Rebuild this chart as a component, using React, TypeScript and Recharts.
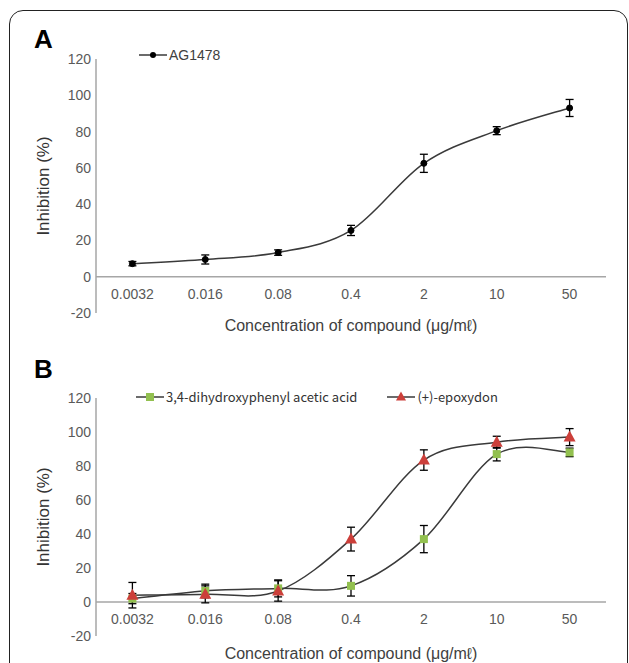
import React from "react";
import {
  LineChart,
  Line,
  XAxis,
  YAxis,
  ErrorBar,
  ReferenceLine,
  Legend,
} from "recharts";

const concentrations = ["0.0032", "0.016", "0.08", "0.4", "2", "10", "50"];
const yTicks = [-20, 0, 20, 40, 60, 80, 100, 120];

// panel A
const ag1478 = [7.2, 9.5, 13.3, 25.5, 62.5, 80.5, 93];
const ag1478Err = [1.2, 2.5, 1.5, 2.8, 5, 2.2, 4.7];

// panel B
const dhpaa = [2, 6.5, 8, 9.5, 37, 87, 88];
const dhpaaErr = [3, 4, 5, 6, 8, 4, 2.5];
const epoxydon = [4, 4.5, 6.5, 37, 83.5, 94, 97];
const epoxydonErr = [7.5, 5, 6, 7, 6, 3.5, 5];

const dataA = concentrations.map((c, i) => ({ c, v: ag1478[i], e: ag1478Err[i] }));
const dataB = concentrations.map((c, i) => ({
  c,
  dh: dhpaa[i],
  dhErr: dhpaaErr[i],
  ep: epoxydon[i],
  epErr: epoxydonErr[i],
}));

const GREEN = "#92c04f";
const RED = "#cc3f3a";
const LINE = "#3a3a3a";
const AXIS = "#a6a6a6";
const TICK = "#595959";
const FONT = '"Liberation Sans", Arial, sans-serif';
const xTitle = "Concentration of compound (\u03bcg/m\u2113)";

// excel-like smoothed line (catmull-rom)
const smooth = (context: any) => {
  let pts: number[][] = [];
  return {
    areaStart() {},
    areaEnd() {},
    lineStart() {
      pts = [];
    },
    point(x: number, y: number) {
      pts.push([+x, +y]);
    },
    lineEnd() {
      if (!pts.length) return;
      context.moveTo(pts[0][0], pts[0][1]);
      for (let i = 0; i < pts.length - 1; i++) {
        const p0 = pts[i - 1] || pts[i];
        const p1 = pts[i];
        const p2 = pts[i + 1];
        const p3 = pts[i + 2] || p2;
        context.bezierCurveTo(
          p1[0] + (p2[0] - p0[0]) / 6,
          p1[1] + (p2[1] - p0[1]) / 6,
          p2[0] - (p3[0] - p1[0]) / 6,
          p2[1] - (p3[1] - p1[1]) / 6,
          p2[0],
          p2[1]
        );
      }
    },
  };
};

const Square = (props: any) => {
  const { cx, cy, key } = props;
  if (cx == null || cy == null) return null;
  return <rect key={key} x={cx - 4} y={cy - 4} width={8} height={8} fill={GREEN} />;
};

const Triangle = (props: any) => {
  const { cx, cy, key } = props;
  if (cx == null || cy == null) return null;
  return (
    <polygon
      key={key}
      points={`${cx},${cy - 6.5} ${cx + 6},${cy + 4.5} ${cx - 6},${cy + 4.5}`}
      fill={RED}
    />
  );
};

const makeTick = (lift: number) => (props: any) => {
  const { x, y, payload } = props;
  return (
    <text x={x} y={y - lift} textAnchor="middle" fill={TICK} fontSize={14} fontFamily={FONT}>
      {payload.value}
    </text>
  );
};

const Marker = ({ kind }: { kind: string }) => (
  <svg width={28} height={12} style={{ display: "block" }}>
    <line x1={0} y1={6} x2={28} y2={6} stroke={LINE} strokeWidth={1.5} />
    {kind === "circle" && <circle cx={14} cy={6} r={3} fill="#000" />}
    {kind === "square" && <rect x={10} y={2} width={8} height={8} fill={GREEN} />}
    {kind === "triangle" && <polygon points="14,0.5 19,9.5 9,9.5" fill={RED} />}
  </svg>
);

const legendA = [{ label: "AG1478", kind: "circle" }];
const legendB = [
  { label: "3,4-dihydroxyphenyl acetic acid", kind: "square" },
  { label: "(+)-epoxydon", kind: "triangle" },
];

const LegendBox = ({ items, font, size, gap, color }: any) => (
  <div style={{ display: "flex", alignItems: "center", whiteSpace: "nowrap" }}>
    {items.map((it: any, i: number) => (
      <div
        key={it.label}
        style={{ display: "flex", alignItems: "center", marginLeft: i ? gap : 0 }}
      >
        <Marker kind={it.kind} />
        <span style={{ fontFamily: font, fontSize: size, color, marginLeft: 2 }}>
          {it.label}
        </span>
      </div>
    ))}
  </div>
);

const yLabel = {
  value: "Inhibition  (%)",
  angle: -90,
  position: "insideLeft" as const,
  offset: 43,
  style: { textAnchor: "middle", fill: "#333", fontSize: 17, fontFamily: FONT },
};

const panelLetter = (top: number): React.CSSProperties => ({
  position: "absolute",
  left: 34,
  top,
  fontFamily: FONT,
  fontWeight: 700,
  fontSize: 26,
  color: "#000",
});

export default function App() {
  return (
    <div
      style={{
        position: "absolute",
        left: 0,
        top: 0,
        width: 629,
        height: 663,
        overflow: "hidden",
        background: "#fff",
        fontFamily: FONT,
      }}
    >
      <div
        style={{
          position: "absolute",
          left: 9,
          top: 10,
          width: 617,
          height: 700,
          border: "1.5px solid #222",
          borderRadius: 14,
        }}
      />
      <div style={panelLetter(24)}>A</div>
      <div style={panelLetter(354)}>B</div>

      <div style={{ position: "absolute", left: 0, top: 0 }}>
        <LineChart
          width={629}
          height={340}
          data={dataA}
          margin={{ top: 59, right: 23, bottom: 0, left: 0 }}
        >
          <XAxis
            dataKey="c"
            axisLine={false}
            tickLine={false}
            height={27}
            interval={0}
            padding={{ left: 36.4, right: 36.4 }}
            tick={makeTick(22)}
            label={{
              value: xTitle,
              position: "insideBottom",
              offset: 9,
              style: { fill: "#404040", fontSize: 16, fontFamily: FONT },
            }}
          />
          <YAxis
            width={96}
            domain={[-20, 120]}
            ticks={yTicks}
            interval={0}
            tickLine={false}
            tickSize={0}
            tickMargin={5}
            axisLine={{ stroke: AXIS, strokeWidth: 1.5 }}
            tick={{ fill: TICK, fontSize: 14, fontFamily: FONT }}
            label={yLabel}
          />
          <ReferenceLine y={0} stroke={AXIS} strokeWidth={1.5} />
          <Legend
            layout="horizontal"
            verticalAlign="middle"
            align="center"
            wrapperStyle={{ left: 139, top: 47, width: "auto" }}
            content={() => (
              <LegendBox items={legendA} font={FONT} size={14} gap={0} color="#404040" />
            )}
          />
          <Line
            dataKey="v"
            name="AG1478"
            type={smooth as any}
            stroke={LINE}
            strokeWidth={1.5}
            dot={{ r: 3, fill: "#000", stroke: "#000", strokeWidth: 1 }}
            activeDot={false}
            isAnimationActive={false}
          >
            <ErrorBar dataKey="e" width={4} stroke="#000" strokeWidth={1.3} direction="y" isAnimationActive={false} />
          </Line>
        </LineChart>
      </div>

      <div style={{ position: "absolute", left: 0, top: 330 }}>
        <LineChart
          width={629}
          height={333}
          data={dataB}
          margin={{ top: 68, right: 23, bottom: 0, left: 0 }}
        >
          <XAxis
            dataKey="c"
            axisLine={false}
            tickLine={false}
            height={27}
            interval={0}
            padding={{ left: 36.4, right: 36.4 }}
            tick={makeTick(20)}
            label={{
              value: xTitle,
              position: "insideBottom",
              offset: 4,
              style: { fill: "#404040", fontSize: 16, fontFamily: FONT },
            }}
          />
          <YAxis
            width={96}
            domain={[-20, 120]}
            ticks={yTicks}
            interval={0}
            tickLine={false}
            tickSize={0}
            tickMargin={5}
            axisLine={{ stroke: AXIS, strokeWidth: 1.5 }}
            tick={{ fill: TICK, fontSize: 14, fontFamily: FONT }}
            label={yLabel}
          />
          <ReferenceLine y={0} stroke={AXIS} strokeWidth={1.5} />
          <Legend
            layout="horizontal"
            verticalAlign="middle"
            align="center"
            wrapperStyle={{ left: 136, top: 57, width: "auto" }}
            content={() => (
              <LegendBox
                items={legendB}
                font={'"Noto Sans CJK KR", sans-serif'}
                size={13}
                gap={30}
                color="#333"
              />
            )}
          />
          <Line
            dataKey="dh"
            name="3,4-dihydroxyphenyl acetic acid"
            type={smooth as any}
            stroke={LINE}
            strokeWidth={1.5}
            dot={Square}
            activeDot={false}
            isAnimationActive={false}
          >
            <ErrorBar dataKey="dhErr" width={4} stroke="#000" strokeWidth={1.3} direction="y" isAnimationActive={false} />
          </Line>
          <Line
            dataKey="ep"
            name="(+)-epoxydon"
            type={smooth as any}
            stroke={LINE}
            strokeWidth={1.5}
            dot={Triangle}
            activeDot={false}
            isAnimationActive={false}
          >
            <ErrorBar dataKey="epErr" width={4} stroke="#000" strokeWidth={1.3} direction="y" isAnimationActive={false} />
          </Line>
        </LineChart>
      </div>
    </div>
  );
}
